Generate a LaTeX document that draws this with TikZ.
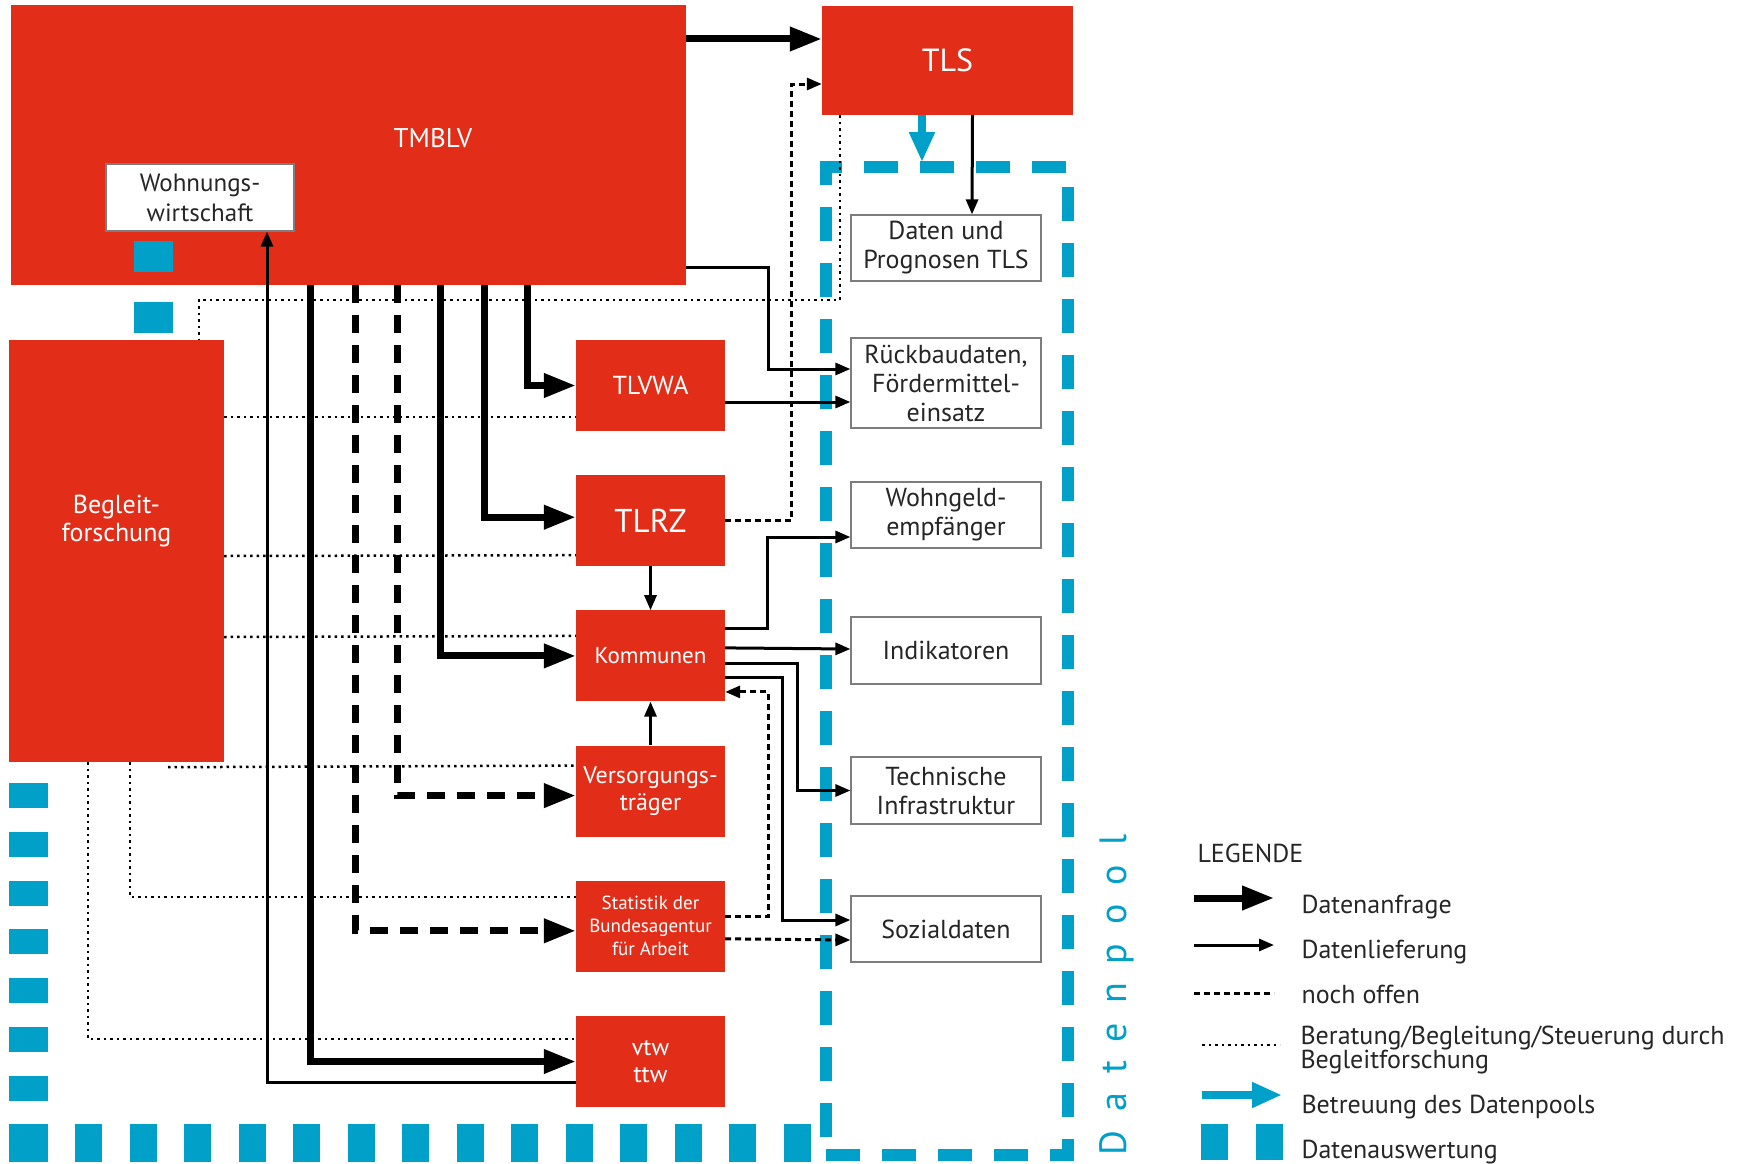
\documentclass[tikz,border=0pt]{standalone}
\usepackage{fontspec}
\setmainfont{PT Sans}
\newfontfamily\poolfont[LetterSpace=50]{PT Sans}
\usetikzlibrary{arrows.meta}
\usetikzlibrary{positioning}
\definecolor{tmred}{RGB}{226,46,24}
\definecolor{poolblue}{RGB}{0,160,200}
\definecolor{boxgray}{RGB}{125,125,125}

\begin{document}
\begin{tikzpicture}[x=1pt,y=-1pt,node distance=135.2pt,
	>={Triangle[length=15pt,width=12pt]},
	red node/.style={fill=tmred,text=white,inner sep=0pt,align=center,
		minimum width=149pt,minimum height=91pt,font=\fontsize{24}{27}\selectfont},
	data node/.style={draw=boxgray,line width=1.2pt,fill=white,inner sep=0pt,
		align=center,minimum width=190pt,text=black!85,font=\fontsize{26}{29}\selectfont},
	request/.style={line width=7pt,-{Triangle[length=32pt,width=23pt]}},
	request open/.style={request,dash pattern=on 18pt off 12pt},
	delivery/.style={line width=3pt,->},
	pending/.style={line width=3pt,dash pattern=on 6pt off 4pt},
	advice/.style={line width=2.5pt,dash pattern=on 2.5pt off 4pt},
	service/.style={poolblue,line width=8pt,-{Triangle[length=30pt,width=24pt]}},
	legend text/.style={anchor=base west,text=black!85,font=\fontsize{26}{26}\selectfont}]

	\useasboundingbox (0,0) rectangle (1740,1164);

	% Datenpool
	\node[draw=poolblue,line width=12pt,dash pattern=on 34pt off 22pt,
		minimum width=242pt,minimum height=988pt] (pool) at (947,661) {};
	\node[rotate=90,text=poolblue,font=\poolfont\fontsize{38}{40}\selectfont] (pooltitle) at (1117,995) {Datenpool};

	% Ministerium und Landesaemter
	\node[fill=tmred,minimum width=675pt,minimum height=280pt,
		label={[text=white,font=\fontsize{27}{30}\selectfont,xshift=84.5pt,yshift=7pt]center:TMBLV}] (tmblv) at (348.5,145) {};
	\node[red node,minimum width=251pt,minimum height=109pt,font=\fontsize{32}{36}\selectfont] (tls) at (947.5,60.5) {TLS};
	\node[data node,minimum width=188pt,minimum height=67pt,font=\fontsize{25}{30}\selectfont] (wohn) at (200,197.5) {Wohnungs-\\wirtschaft};
	\node[red node,minimum width=215pt,minimum height=422pt,
		label={[text=white,align=center,font=\fontsize{26}{28}\selectfont,yshift=30pt]center:{Begleit-\\forschung}}] (begl) at (116.5,551) {};

	\node[red node,font=\fontsize{26}{30}\selectfont] (tlvwa) at (650.5,385.5) {TLVWA};
	\node[red node,font=\fontsize{33}{36}\selectfont] (tlrz) [below of=tlvwa] {TLRZ};
	\node[red node,font=\fontsize{23}{26}\selectfont] (komm) [below of=tlrz] {Kommunen};
	\node[red node] (vers) [below of=komm] {Versorgungs-\\träger};
	\node[red node,font=\fontsize{19}{23}\selectfont] (stat) [below of=vers] {Statistik der\\Bundesagentur\\für Arbeit};
	\node[red node] (vtw) [below of=stat] {vtw\\ttw};

	% Datenbestaende
	\node[data node,minimum height=66pt] (daten) at (946,248) {Daten und\\Prognosen TLS};
	\node[data node,minimum height=90pt] (rueck) at (946,383) {Rückbaudaten,\\Fördermittel-\\einsatz};
	\node[data node,minimum height=66pt] (wohngeld) at (946,515) {Wohngeld-\\empfänger};
	\node[data node,minimum height=67pt] (indik) at (946,650.5) {Indikatoren};
	\node[data node,minimum height=67pt] (techn) at (946,790.5) {Technische\\Infrastruktur};
	\node[data node,minimum height=66pt] (sozial) at (946,929) {Sozialdaten};

	% Datenauswertung
	\foreach \y in {241,302}
		\fill[poolblue] (134,\y) rectangle ++(39,31);
	\foreach \i in {0,...,6}
		\fill[poolblue] (9,783+48.8*\i) rectangle ++(39,25);
	\fill[poolblue] (9,1124) rectangle (48,1162);
	\foreach \i in {0,...,13}
		\fill[poolblue] (75+54.5*\i,1124) rectangle ++(27,38);

	% Beratung/Begleitung
	\draw[advice] ([xshift=-107.5pt]tls.south) |- ([xshift=82.5pt,yshift=40pt]begl.north) -- ([xshift=82.5pt]begl.north);
	\draw[advice] ([yshift=134pt]begl.east) -- ([yshift=-31.5pt]tlvwa.west);
	\draw[advice] ([yshift=-5pt]begl.east) -- ([yshift=-34.5pt]tlrz.west);
	\draw[advice] ([yshift=-86pt]begl.east) -- ([yshift=20pt]komm.west);
	\draw[advice] ([xshift=51.5pt,yshift=-5pt]begl.south) -- ([yshift=25.5pt]vers.west);
	\draw[advice] ([xshift=13.5pt]begl.south) |- ([yshift=29.5pt]stat.west);
	\draw[advice] ([xshift=-28.5pt]begl.south) |- ([yshift=22.5pt]vtw.west);

	% Datenanfrage
	\draw[request] ([yshift=106pt]tmblv.east) -- ([yshift=21.5pt]tls.west);
	\draw[request] ([xshift=517pt]tmblv.south west) |- (tlvwa);
	\draw[request] ([xshift=474pt]tmblv.south west) |- ([yshift=3.5pt]tlrz.west);
	\draw[request] ([xshift=430pt]tmblv.south west) |- (komm);
	\draw[request open] ([xshift=387pt]tmblv.south west) |- ([yshift=-4.5pt]vers.west);
	\draw[request open] ([xshift=345pt]tmblv.south west) |- ([yshift=-4.5pt]stat.west);
	\draw[request] ([xshift=300pt]tmblv.south west) |- (vtw);

	% Datenlieferung
	\draw[delivery] ([xshift=25pt]tls.south) -- ([xshift=26pt]daten.north);
	\draw[delivery] ([yshift=18pt]tmblv.south east) -| ([xshift=-82pt,yshift=14pt]rueck.west) -- ([yshift=14pt]rueck.west);
	\draw[delivery] ([yshift=-16.5pt]tlvwa.east) -- ([yshift=-19pt]rueck.west);
	\draw[delivery] (tlrz) -- (komm);
	\draw[delivery] (vers) -- (komm);
	\draw[delivery] ([yshift=27pt]komm.east) -| ([xshift=-83pt,yshift=-22pt]wohngeld.west) -- ([yshift=-22pt]wohngeld.west);
	\draw[delivery] ([yshift=8pt]komm.east) -- ([yshift=1.5pt]indik.west);
	\draw[delivery] ([yshift=-8pt]komm.east) -| ([xshift=-53pt]techn.west) -- (techn.west);
	\draw[delivery] ([yshift=-22pt]komm.east) -| ([xshift=-68pt,yshift=9pt]sozial.west) -- ([yshift=9pt]sozial.west);
	\draw[delivery] ([yshift=-20.5pt]vtw.west) -| ([xshift=67pt]wohn.south);

	% noch offen
	\draw[pending,->] (tlrz.east) -| ([xshift=-30pt,yshift=-23.5pt]tls.west) -- ([yshift=-23.5pt]tls.west);
	\draw[pending,->] ([yshift=9.5pt]stat.east) -| ([xshift=43pt,yshift=-36pt]komm.east) -- ([yshift=-36pt]komm.east);
	\draw[pending,->] ([yshift=-12.5pt]stat.east) -- ([yshift=-11pt]sozial.west);

	% Betreuung des Datenpools
	\draw[service] ([xshift=-25.5pt]tls.south) -- ([xshift=-25.5pt,yshift=-47pt]tls.south);

	% Legende
	\node[legend text] (legtitle) at (1194,862) {LEGENDE};
	\node[legend text] (legreq) at (1298,913) {Datenanfrage};
	\node[legend text] (legdel) at (1298,958) {Datenlieferung};
	\node[legend text] (legpen) at (1298,1003) {noch offen};
	\node[legend text,anchor=west,align=left,font=\fontsize{26}{19}\selectfont] (legadv) at (1297,1050) {Beratung/Begleitung/Steuerung durch\\Begleitforschung};
	\node[legend text] (legsrv) at (1298,1113) {Betreuung des Datenpools};
	\node[legend text] (legeval) at (1298,1158) {Datenauswertung};

	\draw[request] (1194,898) -- (1274,898);
	\draw[delivery] (1194,945) -- (1274,945);
	\draw[pending] (1194,993) -- (1274,993);
	\draw[advice] (1202,1045) -- (1280,1045);
	\draw[service] (1202,1095) -- (1282,1095);
	\fill[poolblue] (1201,1124) rectangle (1228,1160);
	\fill[poolblue] (1256,1124) rectangle (1283,1160);
\end{tikzpicture}
\end{document}
